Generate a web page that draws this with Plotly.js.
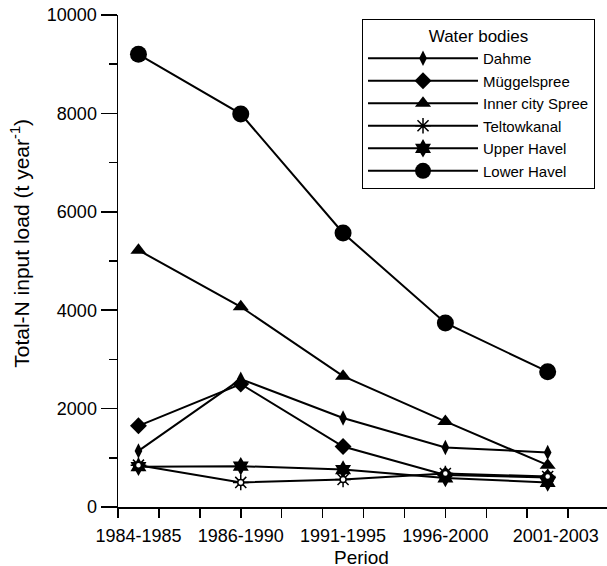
<!DOCTYPE html>
<html>
<head>
<meta charset="utf-8">
<script src="https://cdn.plot.ly/plotly-3.0.1.min.js"></script>
<style>html,body{margin:0;padding:0;background:#fff;}#chart{width:607px;height:566px;}</style>
</head>
<body>
<div id="chart"></div>
<script>
// ---- data ----
const periods = ["1984-1985", "1986-1990", "1991-1995", "1996-2000", "2001-2003"];
const seriesNames = ["Dahme", "Müggelspree", "Inner city Spree", "Teltowkanal", "Upper Havel", "Lower Havel"];
const dahme        = [1140, 2600, 1810, 1210, 1110];
const muggelspree  = [1650, 2500, 1230, 650, 600];
const innerSpree   = [5220, 4070, 2660, 1740, 850];
const teltowkanal  = [850, 500, 560, 680, 620];
const upperHavel   = [820, 830, 760, 590, 500];
const lowerHavel   = [9200, 7990, 5570, 3740, 2750];
const yTickValues  = [0, 2000, 4000, 6000, 8000, 10000];

// ---- styling ----
const xIdx = periods.map((p, i) => i);
const values = [dahme, muggelspree, innerSpree, teltowkanal, upperHavel, lowerHavel];
const symbols = ["diamond-tall", "diamond", "triangle-up", "asterisk-open", "hexagram", "circle"];
const sizes = [11, 13, 14, 13, 14, 17];

const traces = values.map((v, i) => ({
  type: "scatter", mode: "lines+markers", name: seriesNames[i],
  x: xIdx, y: v, legendgroup: seriesNames[i],
  line: {color: "black", width: 2},
  marker: {symbol: symbols[i], size: sizes[i], color: "black",
           line: {color: "black", width: symbols[i] === "asterisk-open" ? 1.5 : 0}}
}));
// small centre disc of the Teltowkanal "sun" symbol
traces.push({
  type: "scatter", mode: "markers", x: xIdx, y: teltowkanal, showlegend: false,
  legendgroup: seriesNames[3], hoverinfo: "skip",
  marker: {symbol: "circle", size: 6, color: "white", line: {color: "black", width: 1.5}}
});
// empty trace that carries the tick-only overlay axis
traces.push({type: "scatter", x: [], y: [], xaxis: "x2", showlegend: false, hoverinfo: "skip"});

const xRange = [-0.2, 4.58];
const minorStep = 0.4;
const tickPos = [];
for (let t = xRange[0]; t <= xRange[1] + 1e-9; t += minorStep) tickPos.push(+t.toFixed(4));
const labelPos = xIdx.map((i) => (i === periods.length - 1 ? i + 0.08 : i));

const font = "Liberation Sans, Arial, sans-serif";
const layout = {
  width: 607, height: 566,
  margin: {l: 118, r: 0, t: 15, b: 59},
  paper_bgcolor: "white", plot_bgcolor: "white",
  font: {family: font, color: "black", size: 18},
  showlegend: true,
  xaxis: {
    range: xRange, showline: true, linecolor: "black", linewidth: 1.5,
    showgrid: false, zeroline: false,
    tickmode: "array", tickvals: labelPos, ticktext: periods,
    ticks: "outside", ticklen: 12, tickcolor: "rgba(0,0,0,0)",
    tickfont: {size: 18, family: font},
    automargin: false
  },
  xaxis2: {
    overlaying: "x", anchor: "y", range: xRange, side: "bottom",
    tickmode: "array", tickvals: tickPos, showticklabels: false,
    ticks: "outside", ticklen: 10, tickwidth: 1.5, tickcolor: "black",
    showline: false, showgrid: false, zeroline: false
  },
  yaxis: {
    range: [0, 10000], showline: true, linecolor: "black", linewidth: 1.5,
    showgrid: false, zeroline: false,
    tickmode: "array", tickvals: yTickValues, ticktext: yTickValues.map(String),
    ticks: "outside", ticklen: 16, tickwidth: 1.5, tickcolor: "black",
    tickfont: {size: 18, family: font},
    minor: {tickmode: "linear", tick0: 0, dtick: 1000, ticks: "outside", ticklen: 8, tickwidth: 1.5, tickcolor: "black"},
    automargin: false
  },
  legend: {
    x: 0.499, xanchor: "left", y: 0.992, yanchor: "top",
    bordercolor: "black", borderwidth: 1, bgcolor: "white",
    font: {size: 15, family: font},
    title: {text: "Water bodies", side: "top center", font: {size: 17, family: font}},
    itemsizing: "trace", tracegroupgap: 0, itemwidth: 110
  },
  annotations: [{
    text: "Total-N input load (t year<sup>-1</sup>)",
    xref: "paper", yref: "paper", x: -0.2004, y: 0.535,
    xanchor: "center", yanchor: "middle", textangle: -90, showarrow: false,
    font: {size: 21, family: font}
  }, {
    text: "Period",
    xref: "paper", yref: "paper", x: 0.498, y: -0.102,
    xanchor: "center", yanchor: "middle", showarrow: false,
    font: {size: 19, family: font}
  }]
};

Plotly.newPlot("chart", traces, layout, {staticPlot: true, displayModeBar: false});
</script>
</body>
</html>
